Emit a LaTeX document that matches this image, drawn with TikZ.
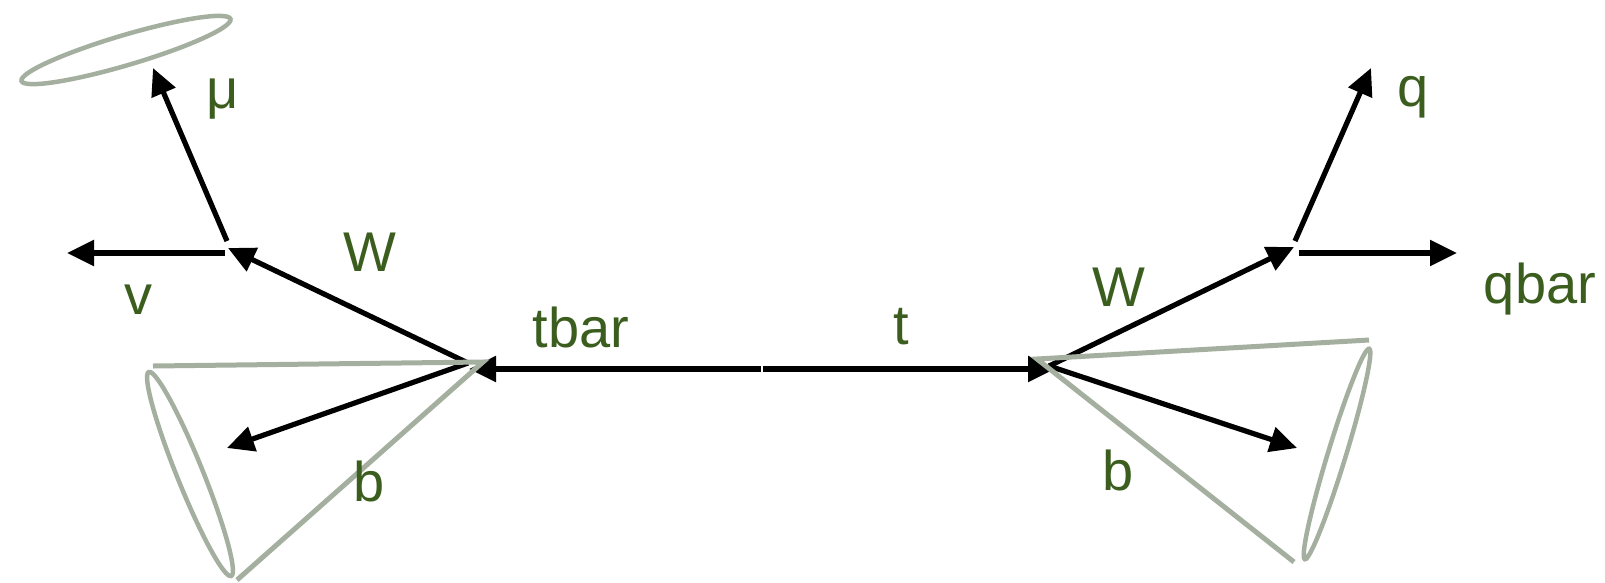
\documentclass[tikz,border=0pt]{standalone}
\usepackage{fontspec}
\setmainfont{Liberation Sans}
\usetikzlibrary{arrows.meta}
\definecolor{lbl}{HTML}{3B5E1F}
\definecolor{cone}{HTML}{A5AFA0}
\begin{document}
\begin{tikzpicture}[x=1pt,y=-1pt,
  arr/.style={line width=5.2pt,-{Triangle[length=27pt,width=25pt]}},
  conel/.style={draw=cone,line width=5pt},
  jet/.style={draw=cone,line width=4.5pt},
  lab/.style={text=lbl,inner sep=0pt,font=\fontsize{56}{60}\selectfont}]
\useasboundingbox (0,0) rectangle (1605,582);
% vertices
\coordinate (tbarS) at (761,369);
\coordinate (tS) at (763,369);
\coordinate (L) at (469,369);
\coordinate (Lv) at (468,363);
\coordinate (R) at (1055,369);
\coordinate (Rv) at (1049,366);
\coordinate (Wl) at (228,248);
\coordinate (Wr) at (1294,247);
\coordinate (muS) at (227,241);
\coordinate (muE) at (153,68);
\coordinate (nuS) at (225,253);
\coordinate (nuE) at (67,253);
\coordinate (qS) at (1295,241);
\coordinate (qE) at (1371,68);
\coordinate (qbS) at (1299,253);
\coordinate (qbE) at (1457,253);
\coordinate (bl) at (227,448);
\coordinate (br) at (1297,448);
% top-quark lines
\draw[arr] (tbarS) -- (L);
\draw[arr] (tS) -- (R);
% W bosons and b quarks
\draw[arr] (Lv) -- (Wl);
\draw[arr] (Lv) -- (bl);
\draw[arr] (Rv) -- (Wr);
\draw[arr] (Rv) -- (br);
% W decays
\draw[arr] (muS) -- (muE);
\draw[arr] (nuS) -- (nuE);
\draw[arr] (qS) -- (qE);
\draw[arr] (qbS) -- (qbE);
% jet cones (y axis points down, so rotations are mirrored)
\coordinate (cl) at (483,362);
\coordinate (cr) at (1037,359);
\draw[conel] (153,366) -- (cl) -- (237,580);
\draw[conel] (1369,340) -- (cr) -- (1294,562);
\draw[jet] (190,474) ellipse [x radius=110,y radius=13,rotate=-68];
\draw[jet] (1337,454) ellipse [x radius=110,y radius=9,rotate=73];
\draw[jet] (126,50) ellipse [x radius=109,y radius=15,rotate=16.5];
% labels
\node[lab] (lmu) at (223,99) {μ};
\node[lab] (lnu) at (138,300) {v};
\node[lab] (lWl) at (370,252) {W};
\node[lab] (ltbar) at (581,327) {tbar};
\node[lab] (lt) at (901,327) {t};
\node[lab] (lbl) at (369,481) {b};
\node[lab] (lWr) at (1119,287) {W};
\node[lab] (lbr) at (1118,470) {b};
\node[lab] (lq) at (1413,97) {q};
\node[lab] (lqbar) at (1540,289) {qbar};
\end{tikzpicture}
\end{document}
